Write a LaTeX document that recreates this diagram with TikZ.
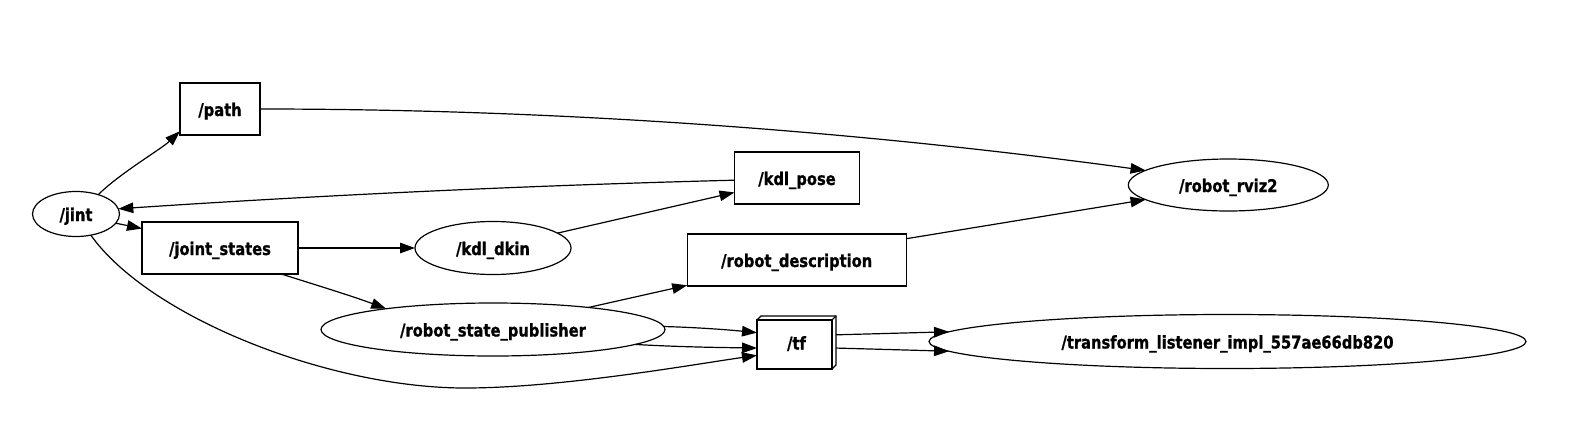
\documentclass[tikz,border=0pt]{standalone}
\usepackage{fontspec}
\newfontfamily\lblfont{DejaVu Sans}[FakeStretch=0.84,FakeBold=1]
\usetikzlibrary{arrows.meta,shapes.geometric}
\begin{document}
\begin{tikzpicture}[x=1pt,y=-1pt,
  every node/.style={font=\lblfont\bfseries\fontsize{17.5}{20}\selectfont, line width=1.2pt, inner sep=0pt, outer sep=0pt, text height=16pt, text depth=2pt},
  topicbox/.style={draw, rectangle, minimum height=52pt},
  nodeell/.style={draw, ellipse},
  edgearrow/.style={-{Triangle[length=15pt,width=10.5pt]}, line width=1.2pt},
  boxline/.style={line width=1.2pt, line join=miter}
]
\fill[white] (0,0) rectangle (1586,445);
\useasboundingbox (0,0) rectangle (1586,445);

% nodes
\node[nodeell, minimum width=87pt, minimum height=45pt] (jint) at (76,214) {/jint};
\node[topicbox, minimum width=80pt] (path) at (220,109) {/path};
\node[topicbox, minimum width=156pt] (js) at (220,248) {/joint\_states};
\node[nodeell, minimum width=156pt, minimum height=53pt] (dkin) at (493,248) {/kdl\_dkin};
\node[topicbox, minimum width=125pt] (kpose) at (797,178) {/kdl\_pose};
\node[topicbox, minimum width=219pt] (rdesc) at (796.7,260) {/robot\_description};
\node[nodeell, minimum width=200pt, minimum height=52pt] (rviz) at (1228.3,185) {/robot\_rviz2};
\node[nodeell, minimum width=344pt, minimum height=53pt] (rsp) at (493,329.5) {/robot\_state\_publisher};
\node[minimum width=79pt, minimum height=53pt] (tf) at (796.5,342.5) {/tf};
\node[nodeell, minimum width=597pt, minimum height=54pt] (tl) at (1227.5,341.5) {/transform\_listener\_impl\_557ae66db820};

% 3D box for /tf
\draw[boxline] (tf.south west) rectangle ([xshift=-4pt,yshift=-4pt]tf.north east);
\draw[boxline] ([yshift=-4pt]tf.north west) -- ([xshift=4pt]tf.north west) -- (tf.north east) -- ([yshift=4pt]tf.south east) -- ([xshift=-4pt]tf.south east);
\draw[boxline] ([xshift=-4pt,yshift=-4pt]tf.north east) -- (tf.north east);

% edges
\draw[edgearrow] (jint.41) .. controls (119.7,173.4) and (161.3,149) .. (path.209);
\draw[edgearrow] (kpose.182) .. controls (530,185.4) and (325,195) .. (jint.7);
\draw[edgearrow] (jint.-13) -- (js.166);
\draw[edgearrow] (path.east) .. controls (600,109) and (900,137) .. (rviz.170);
\draw[edgearrow] (js.east) -- (dkin.west);
\draw[edgearrow] (dkin.13) -- (kpose.193);
\draw[edgearrow] (js.-23) .. controls (316,285) and (352,296) .. (rsp.169);
\draw[edgearrow] (rsp.13) -- (rdesc.193);
\draw[edgearrow] (rdesc.11) -- (rviz.190);
\draw[edgearrow] (rsp.1) .. controls (700,327.5) and (730,330) .. (tf.166);
\draw[edgearrow] (rsp.-6) .. controls (680,347) and (720,347.5) .. (tf.188);
\draw[edgearrow] (jint.-55) .. controls (150,318) and (330,388) .. (465,388) .. controls (560,388) and (690,365) .. (tf.198);
\draw[edgearrow] (tf.11) -- (tl.178);
\draw[edgearrow] (tf.-8) -- (tl.182);
\end{tikzpicture}
\end{document}
